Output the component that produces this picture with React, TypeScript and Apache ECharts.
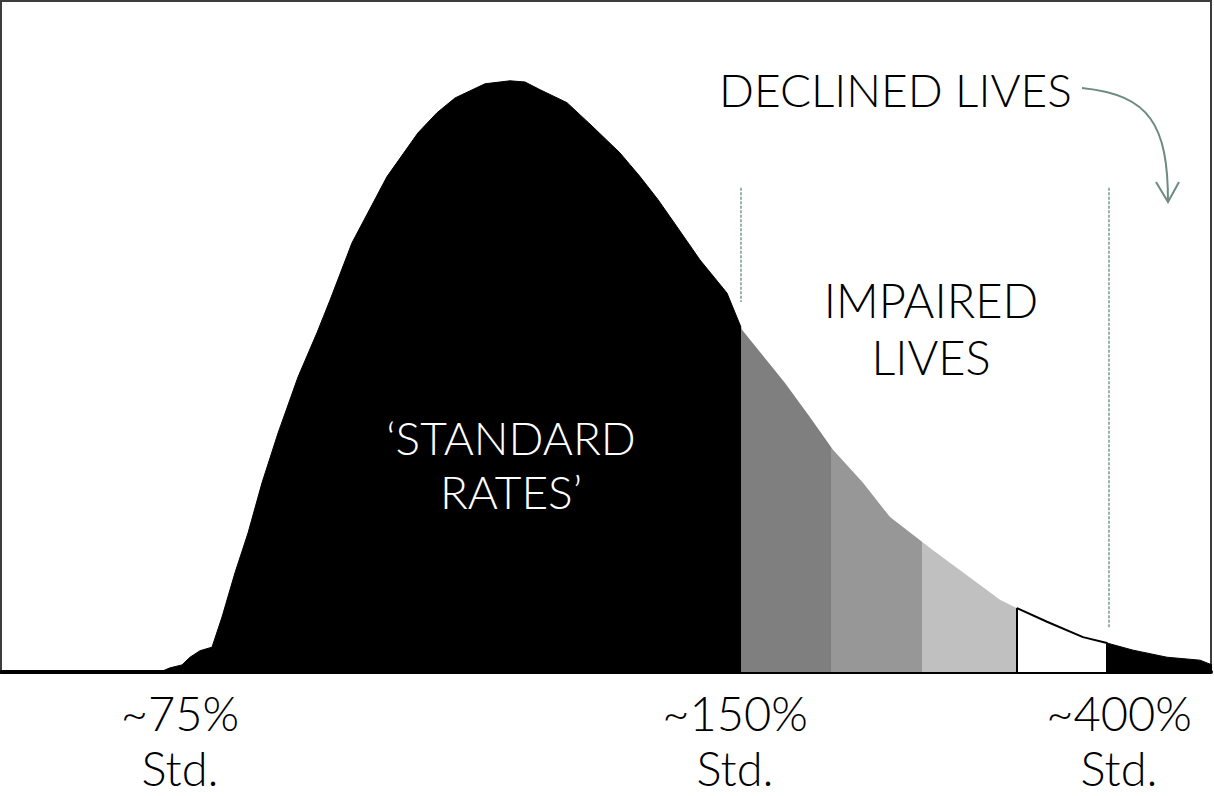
import React, { useEffect, useRef } from "react";
import * as echarts from "echarts";

// Distribution of lives by mortality rating: [rating position, relative density (% of peak)]
const curve: [number, number][] = [
  [0, 0], [159, 0], [162, 0.2], [169, 0.7], [181, 1.2], [189, 2.5], [199, 3.6], [211, 4.2],
  [221, 9.3], [234, 16.8], [247, 23.5], [261, 32.0], [277, 40.4], [297, 49.9], [316, 57.4],
  [329, 62.9], [351, 72.6], [386, 83.8], [417, 91.2], [436, 94.6], [454, 97.1], [484, 99.5],
  [509, 100], [524, 99.8], [539, 98.5], [566, 96.3], [592, 92.2], [619, 87.8], [639, 83.8],
  [657, 79.9], [676, 75.3], [699, 69.7], [726, 64.1], [741, 57.9], [784, 48.9], [809, 43.1],
  [832, 37.6], [862, 32.0], [889, 26.2], [932, 20.6], [976, 15.1], [999, 12.2], [1016, 10.8],
  [1046, 8.5], [1082, 5.9], [1106, 4.9], [1132, 3.7], [1166, 2.5], [1199, 2.0], [1211, 1.2],
];

// Band boundaries along the rating axis and their fills
const bandEdges = [0, 740, 830, 921, 1016, 1106, 1211];
const bandFills = ["#000000", "#7f7f7f", "#979797", "#c0c0c0", "#ffffff", "#000000"];
const bandOutlined = [false, false, false, false, true, false];

// Axis tick labels
const tickValues = [179, 734, 1118];
const tickLabels = ["~75%\nStd.", "~150%\nStd.", "~400%\nStd."];

// Divider lines (rating position, top density, bottom density)
const dividers: [number, number, number][] = [
  [740, 81.9, 62.6],
  [1108, 81.9, 7.4],
];

const yMax = 113.5;
const FONT = "Lato, 'Open Sans', sans-serif";

function interp(x: number): number {
  for (let i = 0; i < curve.length - 1; i++) {
    const [x0, y0] = curve[i];
    const [x1, y1] = curve[i + 1];
    if (x >= x0 && x <= x1) {
      if (x1 === x0) return y0;
      return y0 + ((y1 - y0) * (x - x0)) / (x1 - x0);
    }
  }
  return 0;
}

function clip(lo: number, hi: number): [number, number][] {
  const pts: [number, number][] = [[lo, interp(lo)]];
  curve.forEach(([x, y]) => {
    if (x > lo && x < hi) pts.push([x, y]);
  });
  pts.push([hi, interp(hi)]);
  return pts;
}

export default function App() {
  const ref = useRef<HTMLDivElement>(null);
  useEffect(() => {
    if (!ref.current) return;
    const chart = echarts.init(ref.current, null, { renderer: "svg" });

    const series: any[] = [];
    for (let i = 0; i < bandFills.length; i++) {
      let data = clip(bandEdges[i], bandEdges[i + 1]);
      if (bandOutlined[i]) {
        data = [[bandEdges[i], 0], ...data, [bandEdges[i + 1], 0]];
      }
      series.push({
        type: "line",
        data,
        showSymbol: false,
        symbol: "none",
        smooth: false,
        silent: true,
        z: bandOutlined[i] ? 4 : 2,
        lineStyle: bandOutlined[i]
          ? { color: "#000", width: 2 }
          : { color: bandFills[i], width: i === 0 || i === 5 ? 1 : 0 },
        areaStyle: { color: bandFills[i], opacity: 1 },
      });
    }
    series.push({
      type: "line",
      data: [],
      silent: true,
      markLine: {
        symbol: "none",
        silent: true,
        label: { show: false },
        lineStyle: { color: "#7a9690", width: 1.5, type: [3, 1.5] },
        data: dividers.map(([x, top, bottom]) => [
          { coord: [x, top] },
          { coord: [x, bottom] },
        ]),
      },
    });

    chart.setOption({
      animation: false,
      grid: {
        left: 1,
        top: 1,
        right: 3,
        bottom: 124,
        show: true,
        borderColor: "#3c3c3c",
        borderWidth: 2,
      },
      xAxis: {
        type: "value",
        min: 0,
        max: 1210,
        splitLine: { show: false },
        axisTick: { show: false },
        axisLine: { show: true, lineStyle: { color: "#000", width: 4 } },
        axisLabel: {
          customValues: tickValues,
          formatter: (v: number) => tickLabels[tickValues.indexOf(v)] ?? "",
          color: "#000",
          fontFamily: FONT,
          fontSize: 47,
          fontWeight: 300,
          lineHeight: 55,
          margin: 13,
          align: "center",
        },
      },
      yAxis: {
        type: "value",
        min: 0,
        max: yMax,
        show: false,
        splitLine: { show: false },
      },
      series,
      graphic: [
        {
          type: "text",
          left: 719,
          top: 66,
          style: { text: "DECLINED LIVES", fill: "#000", font: `300 46px ${FONT}` },
        },
        {
          type: "text",
          x: 931,
          y: 271,
          style: {
            text: "IMPAIRED\nLIVES",
            fill: "#000",
            font: `300 47px ${FONT}`,
            textAlign: "center",
            lineHeight: 57,
          },
        },
        {
          type: "text",
          x: 511,
          y: 410,
          z: 10,
          style: {
            text: "\u2018STANDARD\nRATES\u2019",
            fill: "#fff",
            font: `300 46px ${FONT}`,
            textAlign: "center",
            lineHeight: 54,
          },
        },
        {
          type: "bezierCurve",
          shape: { x1: 1082, y1: 88, cpx1: 1150, cpy1: 95, cpx2: 1168, cpy2: 125, x2: 1168, y2: 202 },
          style: { stroke: "#6d8b83", lineWidth: 2, fill: "none" },
        },
        {
          type: "polyline",
          shape: { points: [[1156, 182], [1168, 202], [1179, 182]] },
          style: { stroke: "#6d8b83", lineWidth: 2, fill: "none" },
        },
      ],
    });
    return () => chart.dispose();
  }, []);
  return (
    <div
      ref={ref}
      style={{ position: "fixed", left: 0, top: 0, width: 1214, height: 796, background: "#fff" }}
    />
  );
}
